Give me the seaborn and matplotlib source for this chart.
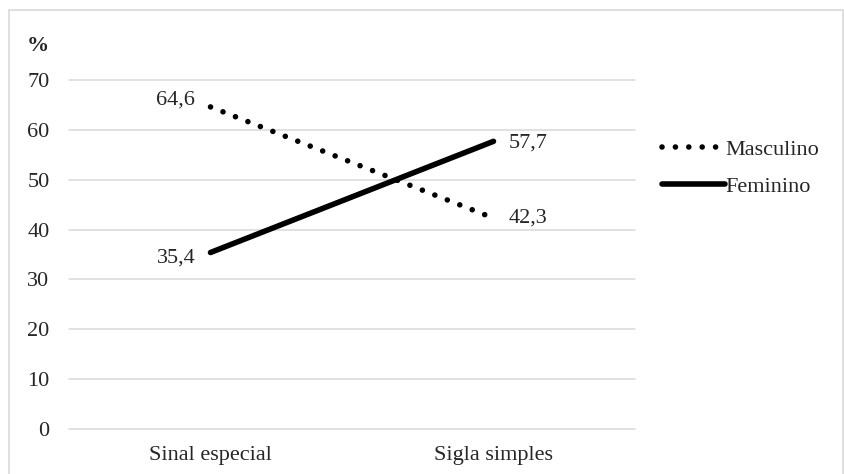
import matplotlib
matplotlib.use("Agg")
import matplotlib.pyplot as plt
import seaborn as sns
import pandas as pd
from matplotlib.patches import Rectangle
from matplotlib.lines import Line2D

categories = ["Sinal especial", "Sigla simples"]
masculino = [64.6, 42.3]
feminino = [35.4, 57.7]
series_names = ["Masculino", "Feminino"]
y_ticks = [0, 10, 20, 30, 40, 50, 60, 70]

df = pd.DataFrame({
    "categoria": categories * 2,
    "valor": masculino + feminino,
    "sexo": [series_names[0]] * 2 + [series_names[1]] * 2,
})
df["x"] = df["categoria"].map({c: i for i, c in enumerate(categories)})

sns.set_theme(style="white")
plt.rcParams["font.family"] = ["Liberation Serif", "DejaVu Serif"]

FS = 16
TXT = "#262626"

fig = plt.figure(figsize=(8.44, 4.74), dpi=100)
ax = fig.add_axes([69 / 844, 1 - 429 / 474, (635 - 69) / 844, (429 - 80) / 474])

# outer frame of the chart
fig.patches.append(Rectangle((9 / 844, -0.05), (843 - 9) / 844, 1.05 - 10 / 474,
                             transform=fig.transFigure, fill=False,
                             edgecolor="#d9d9d9", linewidth=1.2, zorder=0))

for y in y_ticks:
    ax.axhline(y, color="#d9d9d9", linewidth=1.1, zorder=0, clip_on=False)

LW = 4.0
dot_style = (0, (0.01, 2.4))
sns.lineplot(data=df[df["sexo"] == "Masculino"], x="x", y="valor", ax=ax,
             color="black", linewidth=LW, legend=False, zorder=3)
ax.lines[-1].set_linestyle(dot_style)
ax.lines[-1].set_dash_capstyle("round")
sns.lineplot(data=df[df["sexo"] == "Feminino"], x="x", y="valor", ax=ax,
             color="black", linewidth=LW, legend=False, zorder=3)
ax.lines[-1].set_solid_capstyle("round")

ax.set_xlim(-0.5, 1.5)
ax.set_ylim(0, 70)
ax.set_xticks(range(len(categories)))
ax.set_xticklabels(categories)
ax.set_yticks(y_ticks)
ax.set_yticklabels([str(v) for v in y_ticks])
ax.tick_params(axis="x", length=0, pad=12, labelsize=FS, labelcolor=TXT)
ax.tick_params(axis="y", length=0, pad=14, labelsize=FS, labelcolor=TXT)
ax.set_xlabel("")
ax.set_ylabel("")
for s in ax.spines.values():
    s.set_visible(False)

def fmt(v):
    return f"{v:.1f}".replace(".", ",")

ax.annotate(fmt(masculino[0]), (0, masculino[0]), xytext=(-11, 5), textcoords="offset points",
            ha="right", va="center", fontsize=FS, color=TXT)
ax.annotate(fmt(feminino[0]), (0, feminino[0]), xytext=(-11, -4), textcoords="offset points",
            ha="right", va="center", fontsize=FS, color=TXT)
ax.annotate(fmt(feminino[1]), (1, feminino[1]), xytext=(11, -1), textcoords="offset points",
            ha="left", va="center", fontsize=FS, color=TXT)
ax.annotate(fmt(masculino[1]), (1, masculino[1]), xytext=(11, 0), textcoords="offset points",
            ha="left", va="center", fontsize=FS, color=TXT)

fig.text(27 / 844, 1 - 46 / 474, "%", fontsize=FS, fontweight="bold", ha="left", va="center",
         color=TXT)

handles = [
    Line2D([], [], color="black", linewidth=LW, linestyle=dot_style, dash_capstyle="round"),
    Line2D([], [], color="black", linewidth=LW, solid_capstyle="round"),
]
fig.legend(handles, series_names, loc="center left", bbox_to_anchor=(642 / 844, 1 - 168 / 474),
           frameon=False, fontsize=FS, handlelength=2.85, handletextpad=0.0,
           labelspacing=0.75, labelcolor=TXT)

fig.savefig("out.png", dpi=100)
